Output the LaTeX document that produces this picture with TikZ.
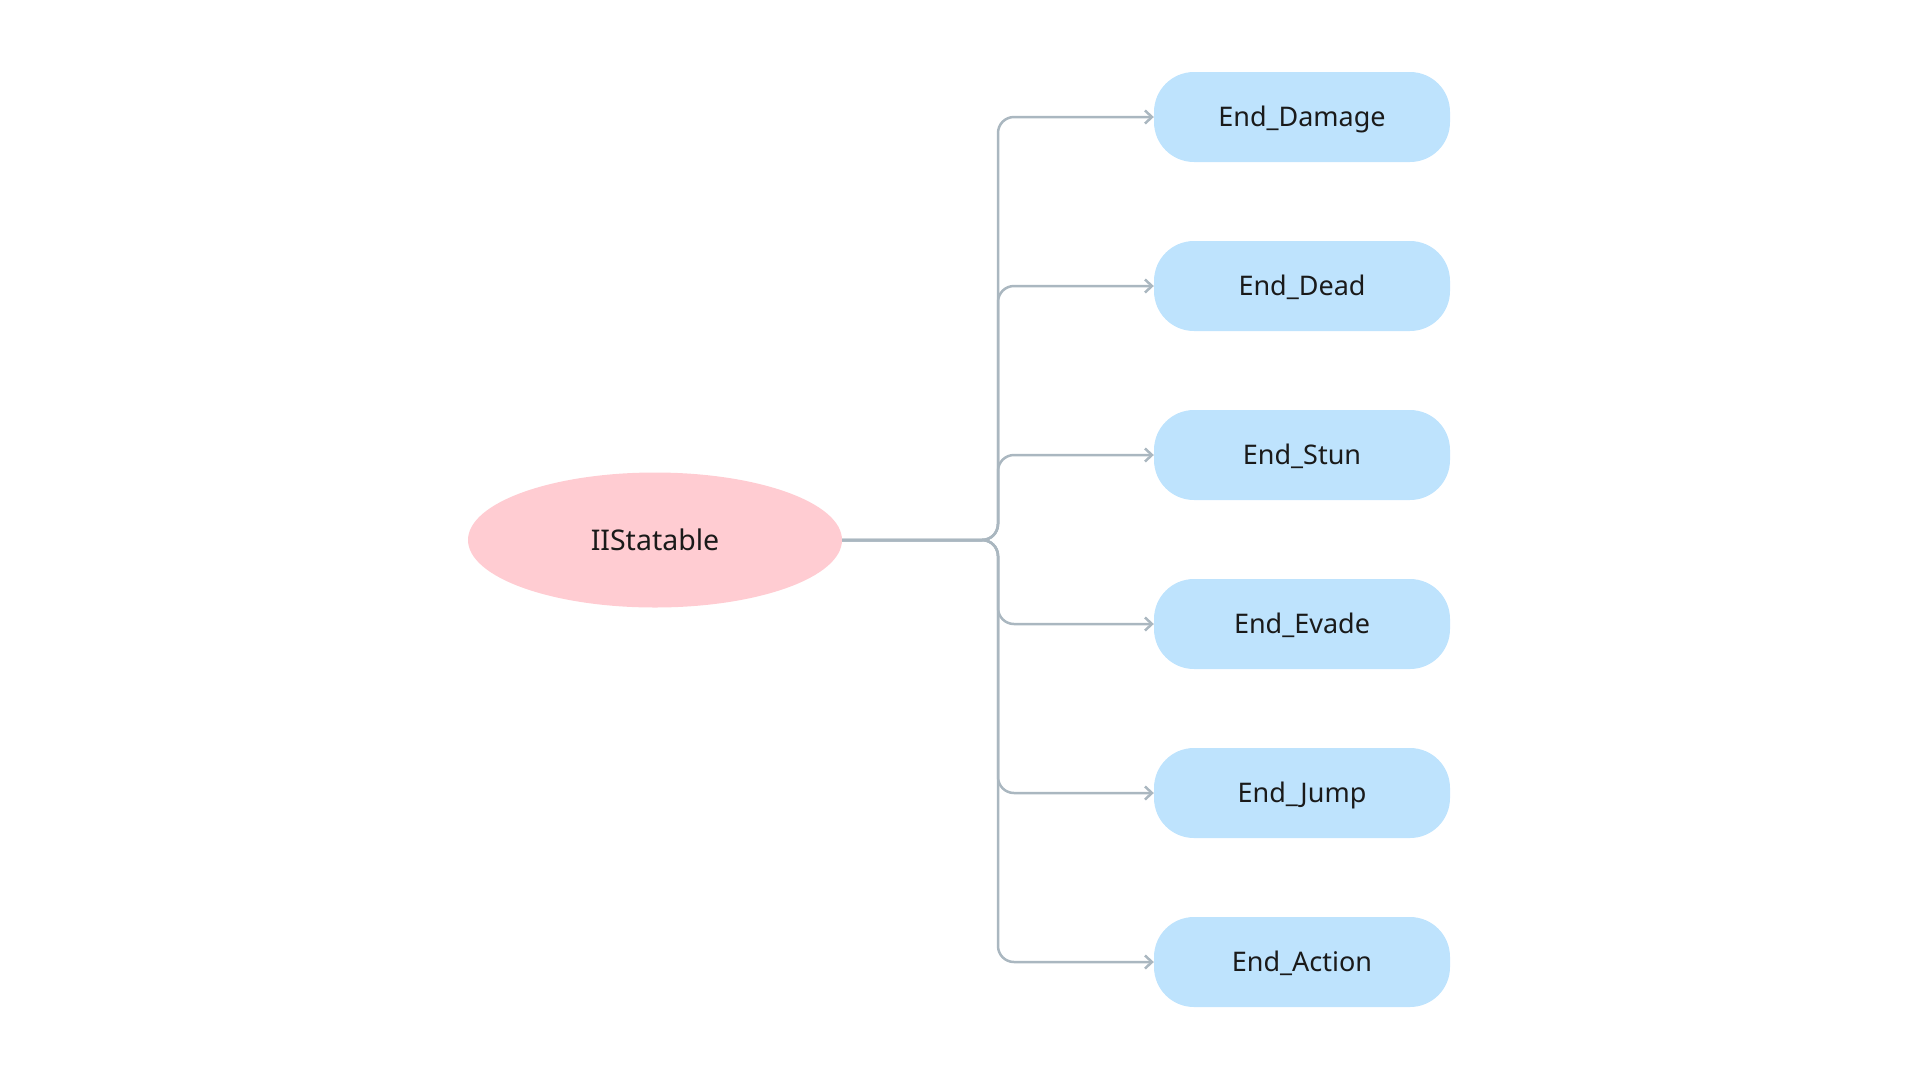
\documentclass[tikz,border=0pt]{standalone}
\usepackage{fontspec}
\setmainfont{Noto Sans}
\usetikzlibrary{arrows.meta,shapes.geometric}
\definecolor{pinkfill}{RGB}{255,204,210}
\definecolor{bluefill}{RGB}{190,227,253}
\definecolor{linkgray}{RGB}{170,183,192}
\definecolor{textblack}{RGB}{26,26,26}
\begin{document}
\begin{tikzpicture}[x=1pt,y=-1pt,
  root/.style={ellipse, fill=pinkfill, minimum width=374pt, minimum height=135pt, inner sep=0pt, text height=20.3pt, text depth=0pt, text=textblack, font=\fontsize{28.5}{32}\selectfont},
  leaf/.style={rectangle, rounded corners=40pt, fill=bluefill, minimum width=296pt, minimum height=90pt, inner sep=0pt, text height=19.3pt, text depth=0pt, text=textblack, font=\fontsize{27}{31}\selectfont},
  link/.style={draw=linkgray, line width=2.5pt, rounded corners=16pt, -{Straight Barb[length=7pt,width=13pt,line width=2.5pt]}}]
\useasboundingbox (0,0) rectangle (1920,1080);
\node [root] (I) at (655,540) {IIStatable};
\node [leaf] (E1) at (1302,117) {End\_Damage};
\node [leaf] (E2) at (1302,286) {End\_Dead};
\node [leaf] (E3) at (1302,455) {End\_Stun};
\node [leaf] (E4) at (1302,624) {End\_Evade};
\node [leaf] (E5) at (1302,793) {End\_Jump};
\node [leaf] (E6) at (1302,962) {End\_Action};
\coordinate (J) at (998,540);
\draw [link] (I.east) -- (J) |- (E1.west);
\draw [link] (I.east) -- (J) |- (E2.west);
\draw [link] (I.east) -- (J) |- (E3.west);
\draw [link] (I.east) -- (J) |- (E4.west);
\draw [link] (I.east) -- (J) |- (E5.west);
\draw [link] (I.east) -- (J) |- (E6.west);
\end{tikzpicture}
\end{document}
